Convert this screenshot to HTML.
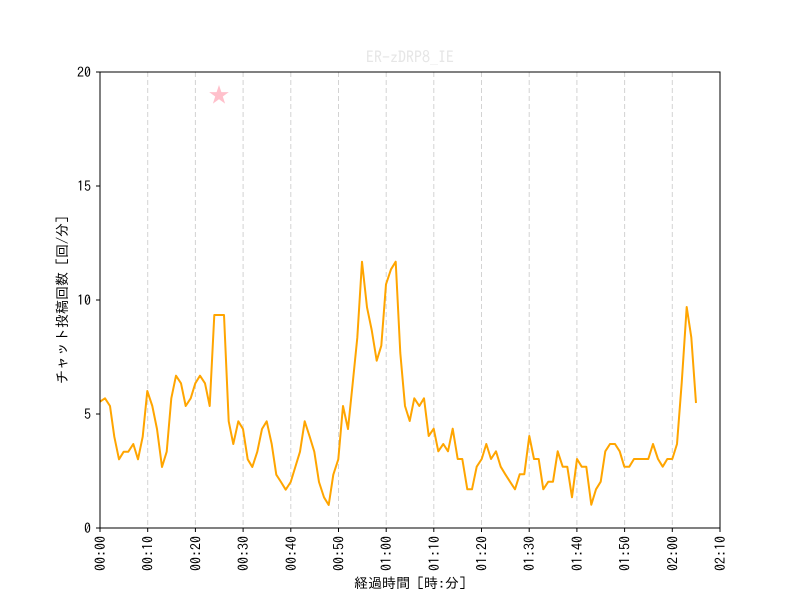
<!DOCTYPE html>
<html><head><meta charset="utf-8"><style>html,body{margin:0;padding:0;background:#fff}svg{display:block}text{font-family:"IPAGothic","Liberation Sans",sans-serif}</style></head><body>
<svg width="800" height="600" viewBox="0 0 800 600" xmlns="http://www.w3.org/2000/svg">
<rect width="800" height="600" fill="#fff"/>
<g stroke="#d3d3d3" stroke-width="1" stroke-dasharray="5,3">
<line x1="147.7" y1="72" x2="147.7" y2="528"/><line x1="195.4" y1="72" x2="195.4" y2="528"/><line x1="243.1" y1="72" x2="243.1" y2="528"/><line x1="290.8" y1="72" x2="290.8" y2="528"/><line x1="338.5" y1="72" x2="338.5" y2="528"/><line x1="386.2" y1="72" x2="386.2" y2="528"/><line x1="433.8" y1="72" x2="433.8" y2="528"/><line x1="481.5" y1="72" x2="481.5" y2="528"/><line x1="529.2" y1="72" x2="529.2" y2="528"/><line x1="576.9" y1="72" x2="576.9" y2="528"/><line x1="624.6" y1="72" x2="624.6" y2="528"/><line x1="672.3" y1="72" x2="672.3" y2="528"/>
</g>
<polyline fill="none" stroke="#ffa500" stroke-width="2" stroke-linejoin="round" points="100,401.7 105,398.3 110,406 114.3,436.7 119,459.3 123.7,451.7 128.3,451.7 133.3,444 138,459.3 142.7,436.7 147.3,391 152.3,406 157,429 162,467 166.7,451.7 171.3,398.3 176,375.7 181,383.3 185.7,406 190.7,398.3 195.3,383.3 200,375.7 205,383.3 209.7,406 214.3,315 219,315 224,315 228.7,421.3 233.3,444 238.3,421.3 243,429 247.7,459.3 252.3,467 257.3,451.7 262,429 266.7,421.3 271.7,444 276.3,474.7 281,482 285.7,489.7 290.7,482 295.3,467 300,451.7 304.7,421.3 309.7,436.7 314.3,451.7 319,482 324,497.3 328.7,505 333.3,474.7 338.3,459.3 343,406 348,429 352.7,383.3 357.3,337.7 362,261.7 367,307.3 371.7,330 376.7,360.7 381.3,345.7 386,284.3 391,269.3 395.7,261.7 400.3,353 405,406 409.7,421 414.3,398.3 419.3,406 424,398.3 428.7,436 433.7,428.7 438.3,451.3 443.3,444 448,451.3 452.7,428.7 457.7,459 462.3,459 467.3,489.3 472,489.3 476.7,466.7 481.7,459 486.3,444 491,459 496,451.3 500.7,466.7 505.3,474.3 510,481.7 515,489.3 519.7,474.3 524.3,474.3 529.3,436 534,459 538.7,459 543.3,489.3 548.3,481.7 553,481.7 557.7,451.3 562.7,466.7 567.3,466.7 572,497.3 577,459 581.7,466.7 586.3,466.7 591.3,504.7 596,489.3 600.7,481.7 605.3,451.3 610,444 615,444 619.7,451.3 624.3,466.7 629.3,466.7 634,459 638.7,459 643.7,459 648.3,459 653,444 658,459 662.7,466.7 667.3,459 672.3,459 677,444 681.7,383 686.7,307 691.3,337.3 696,403"/>
<polygon fill="#ffc0cb" points="219,85 221.4,92.1 228.8,92.1 222.8,96.5 225.1,103.6 219,99.2 212.9,103.6 215.2,96.5 209.2,92.1 216.6,92.1"/>
<rect x="100" y="72" width="620" height="456" fill="none" stroke="#000" stroke-width="1"/>
<g stroke="#000" stroke-width="1">
<line x1="96" y1="528" x2="100" y2="528"/><line x1="96" y1="414" x2="100" y2="414"/><line x1="96" y1="300" x2="100" y2="300"/><line x1="96" y1="186" x2="100" y2="186"/><line x1="96" y1="72" x2="100" y2="72"/>
<line x1="100" y1="528" x2="100" y2="532"/><line x1="147.7" y1="528" x2="147.7" y2="532"/><line x1="195.4" y1="528" x2="195.4" y2="532"/><line x1="243.1" y1="528" x2="243.1" y2="532"/><line x1="290.8" y1="528" x2="290.8" y2="532"/><line x1="338.5" y1="528" x2="338.5" y2="532"/><line x1="386.2" y1="528" x2="386.2" y2="532"/><line x1="433.8" y1="528" x2="433.8" y2="532"/><line x1="481.5" y1="528" x2="481.5" y2="532"/><line x1="529.2" y1="528" x2="529.2" y2="532"/><line x1="576.9" y1="528" x2="576.9" y2="532"/><line x1="624.6" y1="528" x2="624.6" y2="532"/><line x1="672.3" y1="528" x2="672.3" y2="532"/><line x1="720" y1="528" x2="720" y2="532"/>
</g>
<g font-size="14" fill="#000" text-anchor="end">
<text x="91" y="533">0</text><text x="91" y="419">5</text><text x="91" y="305">10</text><text x="91" y="191">15</text><text x="91" y="77">20</text>
</g>
<g font-size="14" fill="#000" text-anchor="end">
<text transform="translate(105,536) rotate(-90)">00:00</text>
<text transform="translate(152.7,536) rotate(-90)">00:10</text>
<text transform="translate(200.4,536) rotate(-90)">00:20</text>
<text transform="translate(248.1,536) rotate(-90)">00:30</text>
<text transform="translate(295.8,536) rotate(-90)">00:40</text>
<text transform="translate(343.5,536) rotate(-90)">00:50</text>
<text transform="translate(391.2,536) rotate(-90)">01:00</text>
<text transform="translate(438.8,536) rotate(-90)">01:10</text>
<text transform="translate(486.5,536) rotate(-90)">01:20</text>
<text transform="translate(534.2,536) rotate(-90)">01:30</text>
<text transform="translate(581.9,536) rotate(-90)">01:40</text>
<text transform="translate(629.6,536) rotate(-90)">01:50</text>
<text transform="translate(677.3,536) rotate(-90)">02:00</text>
<text transform="translate(725,536) rotate(-90)">02:10</text>
</g>
<text x="410" y="588" font-size="14" text-anchor="middle" fill="#000">経過時間 [時:分]</text>
<text transform="translate(67,300) rotate(-90)" font-size="14" text-anchor="middle" fill="#000">チャット投稿回数 [回/分]</text>
<text x="410" y="63" font-size="16" text-anchor="middle" fill="#e6e6e6">ER-zDRP8_IE</text>
</svg>
</body></html>
